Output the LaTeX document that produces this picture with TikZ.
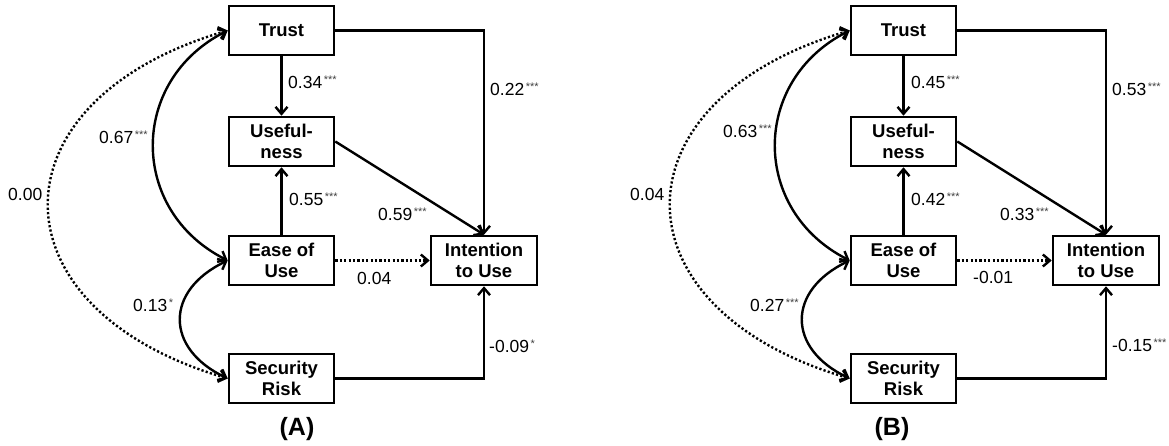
\documentclass[tikz,border=0pt]{standalone}
\usepackage{fontspec}
\setmainfont{Liberation Sans}
\usetikzlibrary{arrows.meta,calc}
\tikzset{
  box/.style={draw, line width=2.6pt, minimum width=105pt, minimum height=49pt,
    inner sep=0pt, align=center, font=\fontsize{18.5}{21.5}\selectfont\bfseries},
  tipA/.tip={Straight Barb[length=7pt,width=12pt,line width=2.4pt]},
  conn/.style={line width=2.4pt, -tipA},
  dconn/.style={line width=2.4pt, dash pattern=on 2.2pt off 2.2pt, -tipA},
  corr/.style={line width=2.4pt, tipA-tipA},
  dcorr/.style={line width=2.4pt, dash pattern=on 2.2pt off 2.2pt, tipA-tipA},
  lab/.style={anchor=base west, inner sep=0pt, font=\fontsize{17.5}{17.5}\selectfont},
  title/.style={inner sep=0pt, font=\fontsize{25}{25}\selectfont\bfseries}
}
\newcommand\sig[1]{\hspace{1.5pt}\raisebox{5pt}{\fontsize{11}{11}\selectfont\color{black!75}#1}}
\newcommand\sempanel[2]{%
\begin{scope}[xshift=#2pt]
  \node[box] (trust#1) at (281.5,415.5) {Trust};
  \node[box] (usef#1) at (281.5,304.5) {Useful-\\ness};
  \node[box] (ease#1) at (281.5,185.5) {Ease of\\Use};
  \node[box] (sec#1) at (281.5,67.5) {Security\\Risk};
  \node[box, minimum width=106pt] (int#1) at (484,185.5) {Intention\\to Use};
  \draw[conn] (trust#1.south) -- (usef#1.north);
  \draw[conn] (ease#1.north) -- (usef#1.south);
  \draw[conn] (trust#1.east) -| (int#1.north);
  \draw[conn] (sec#1.east) -| (int#1.south);
  \draw[conn] (usef#1.east) -- (int#1.north);
  \draw[dconn] (ease#1.east) -- (int#1.west);
  \draw[corr] (trust#1.west) .. controls +(-99,-50) and +(-99,50) .. (ease#1.west);
  \draw[corr] (ease#1.west) .. controls +(-63,-30) and +(-63,30) .. (sec#1.west);
  \draw[dcorr] (trust#1.west) .. controls +(-239,-70) and +(-239,70) .. (sec#1.west);
\end{scope}}
\begin{document}
\begin{tikzpicture}[x=1pt,y=1pt]
\useasboundingbox (0,0) rectangle (1169,446);
\sempanel{A}{0}
\sempanel{B}{622}
% labels panel A
\node[lab] (lA1) at (288,357) {0.34\sig{***}};
\node[lab] (lA2) at (490,350) {0.22\sig{***}};
\node[lab] (lA3) at (99,302) {0.67\sig{***}};
\node[lab] (lA4) at (8,245) {0.00};
\node[lab] (lA5) at (289,240) {0.55\sig{***}};
\node[lab] (lA6) at (378,225) {0.59\sig{***}};
\node[lab] (lA7) at (357,161) {0.04};
\node[lab] (lA8) at (133,134) {0.13\sig{*}};
\node[lab] (lA9) at (489,93) {-0.09\sig{*}};
\node[title] (tA) at (297,17) {(A)};
% labels panel B
\node[lab] (lB1) at (911,357) {0.45\sig{***}};
\node[lab] (lB2) at (1112,350) {0.53\sig{***}};
\node[lab] (lB3) at (723,308) {0.63\sig{***}};
\node[lab] (lB4) at (630,245) {0.04};
\node[lab] (lB5) at (911,240) {0.42\sig{***}};
\node[lab] (lB6) at (1000,225) {0.33\sig{***}};
\node[lab] (lB7) at (973,162) {-0.01};
\node[lab] (lB8) at (750,134) {0.27\sig{***}};
\node[lab] (lB9) at (1112,94) {-0.15\sig{***}};
\node[title] (tB) at (892,17) {(B)};
\end{tikzpicture}
\end{document}
